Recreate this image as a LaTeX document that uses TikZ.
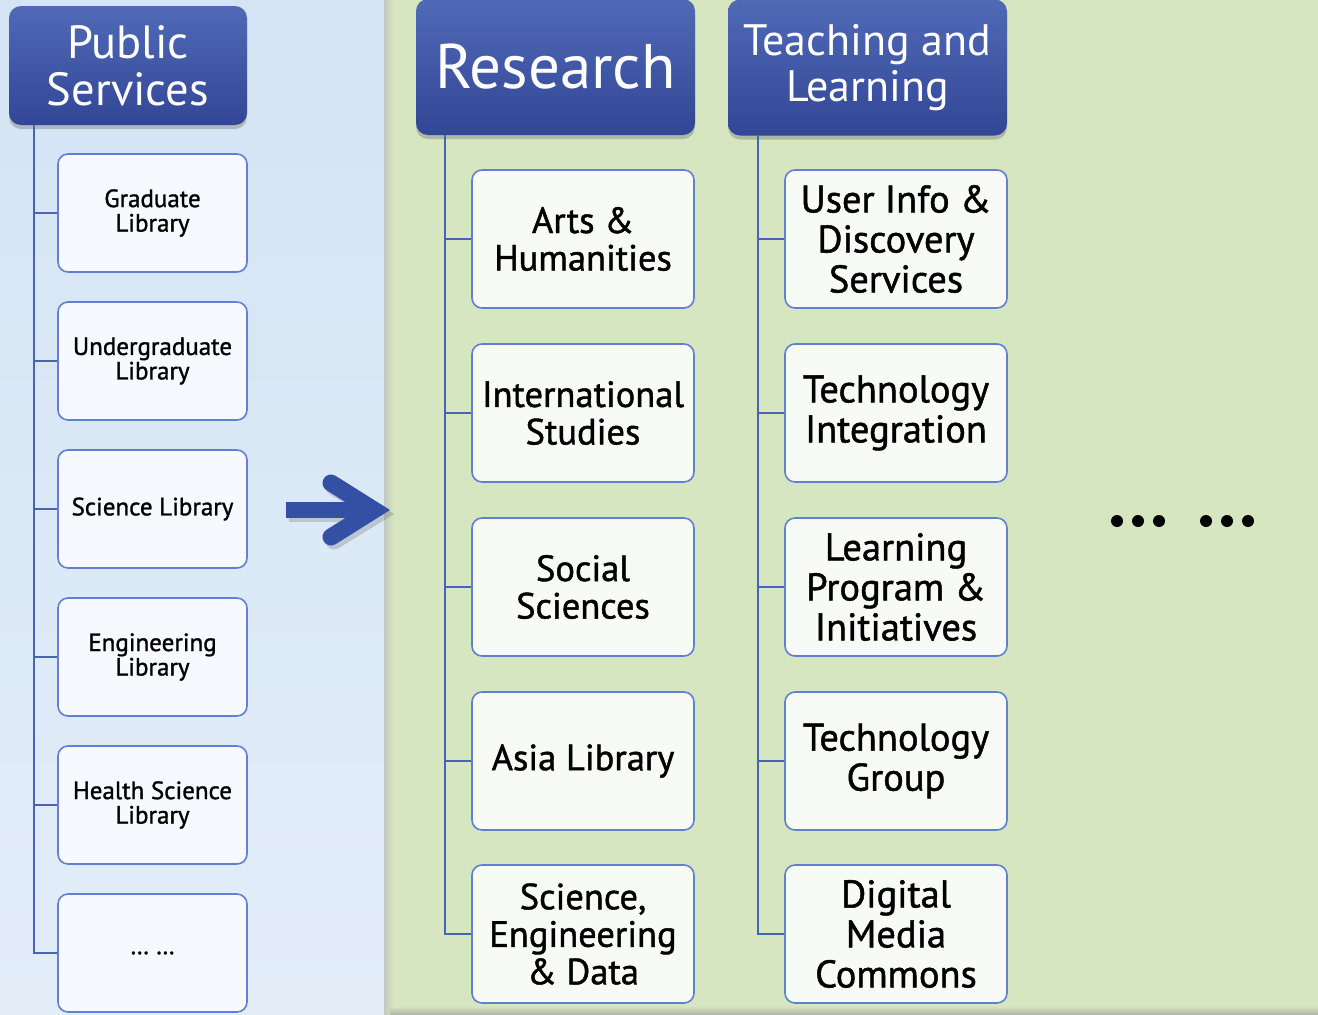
\documentclass[tikz,border=0pt]{standalone}
\usepackage{fontspec}
\setmainfont{PT Sans}
\newfontfamily\boxfont{PT Sans}[FakeBold=1.2]
\usetikzlibrary{shadows}
\definecolor{hdtop}{RGB}{80,106,182}
\definecolor{hdbot}{RGB}{50,70,150}
\definecolor{bord}{RGB}{96,128,212}
\definecolor{trunkc}{RGB}{72,100,185}
\definecolor{leftbgt}{RGB}{212,228,244}
\definecolor{leftbgb}{RGB}{226,237,248}
\definecolor{greenbg}{RGB}{213,230,192}
\definecolor{arrowc}{RGB}{52,80,165}
\definecolor{boxl}{RGB}{246,249,253}
\definecolor{boxg}{RGB}{248,250,245}
\begin{document}
\begin{tikzpicture}[x=1pt,y=-1pt,
  header/.style={rounded corners=12pt, top color=hdtop, bottom color=hdbot, text=white,
    align=center, inner sep=0pt,
    drop shadow={opacity=0.45, shadow xshift=0pt, shadow yshift=-4pt}},
  lbox/.style={draw=bord, line width=1.6pt, rounded corners=10pt, fill=boxl,
    minimum width=189pt, minimum height=118pt, inner sep=0pt, align=center,
    font=\boxfont\fontsize{25}{24.5}\selectfont},
  rbox/.style={draw=bord, line width=1.6pt, rounded corners=10pt, fill=boxg,
    minimum width=222pt, minimum height=138pt, inner sep=0pt, align=center,
    font=\boxfont\fontsize{36.5}{37.5}\selectfont},
  tbox/.style={rbox, font=\boxfont\fontsize{38.5}{40}\selectfont},
  trunk/.style={draw=trunkc, line width=2.2pt},
  dotc/.style={fill=black}
]
\useasboundingbox (0,0) rectangle (1318,1015);
% backgrounds
\shade[top color=leftbgt, bottom color=leftbgb] (0,0) rectangle (386,1015);
\fill[greenbg] (388,0) rectangle (1318,1015);
\shade[left color={rgb,255:red,195;green,200;blue,195}, right color=greenbg] (384,0) rectangle (394,1015);
\shade[top color=greenbg, bottom color={rgb,255:red,175;green,180;blue,170}] (390,1006) rectangle (1318,1015);

% headers
\node[header, minimum width=238pt, minimum height=119pt,
      font=\fontsize{46.5}{47}\selectfont] (ps) at (128,65.5) {Public\\Services};
\node[header, minimum width=279pt, minimum height=136pt,
      font=\fontsize{63}{63}\selectfont] (rs) at (555.5,67) {Research};
\node[header, minimum width=279pt, minimum height=136pt,
      font=\fontsize{44}{46}\selectfont] (tl) at (867.5,67.5) {Teaching and\\Learning};

% left column
\node[lbox] (l1) at (152.5,213) {Graduate\\Library};
\node[lbox] (l2) at (152.5,361) {Undergraduate\\Library};
\node[lbox] (l3) at (152.5,509) {Science Library};
\node[lbox] (l4) at (152.5,657) {Engineering\\Library};
\node[lbox] (l5) at (152.5,805) {Health Science\\Library};
\node[lbox] (l6) at (152.5,953) {… …};

% research column
\node[rbox] (r1) at (583,239) {Arts \&\\Humanities};
\node[rbox] (r2) at (583,413) {International\\Studies};
\node[rbox] (r3) at (583,587) {Social\\Sciences};
\node[rbox] (r4) at (583,761) {Asia Library};
\node[rbox] (r5) at (583,934) {Science,\\Engineering\\\& Data};

% teaching column
\node[tbox] (t1) at (896,239) {User Info \&\\Discovery\\Services};
\node[tbox] (t2) at (896,413) {Technology\\Integration};
\node[tbox] (t3) at (896,587) {Learning\\Program \&\\Initiatives};
\node[tbox] (t4) at (896,761) {Technology\\Group};
\node[tbox] (t5) at (896,934) {Digital\\Media\\Commons};

% trunks
\coordinate (pst) at ([xshift=25pt]ps.south west);
\coordinate (rst) at ([xshift=29pt]rs.south west);
\coordinate (tlt) at ([xshift=30pt]tl.south west);
\draw[trunk] (pst) |- (l6.west);
\foreach \i in {1,...,5} \draw[trunk] (l\i.west) -- (l\i.west -| pst);
\draw[trunk] (rst) |- (r5.west);
\foreach \i in {1,...,4} \draw[trunk] (r\i.west) -- (r\i.west -| rst);
\draw[trunk] (tlt) |- (t5.west);
\foreach \i in {1,...,4} \draw[trunk] (t\i.west) -- (t\i.west -| tlt);

% big arrow
\fill[black, opacity=0.15] (289,505) rectangle (372,522);
\draw[black, opacity=0.15, line width=17pt, line cap=round, line join=miter] (334,487) -- (378,514) -- (334,541);
\fill[arrowc] (286,502) rectangle (370,518);
\draw[arrowc, line width=17pt, line cap=round, line join=miter] (331,483) -- (374,510) -- (331,537);

% continuation dots
\foreach \x in {1117,1138,1159,1206,1227,1248} \fill[dotc] (\x,521) circle (6);
\end{tikzpicture}
\end{document}
